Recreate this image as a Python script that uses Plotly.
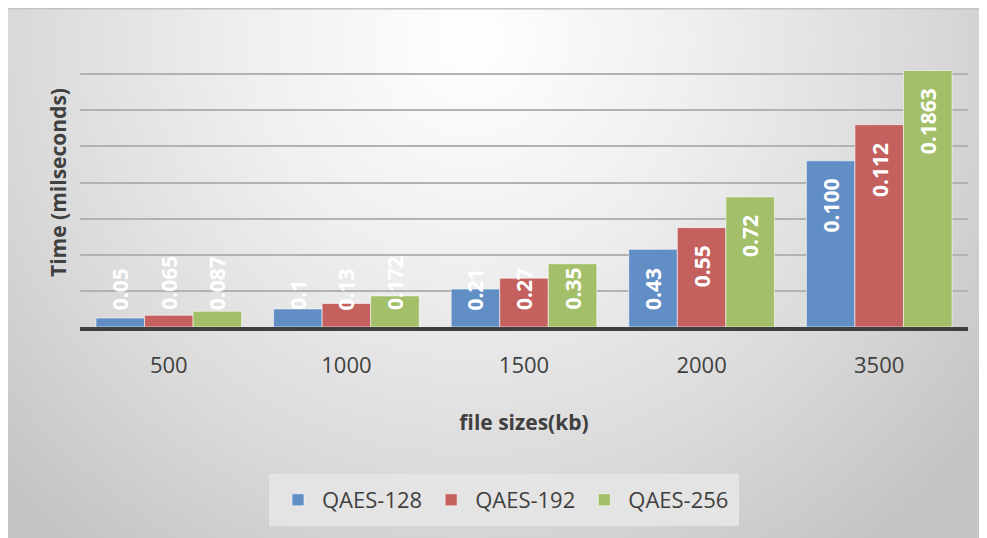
import base64
import plotly.graph_objects as go

# ---------------- data ----------------
categories = ["500", "1000", "1500", "2000", "3500"]
series_names = ["QAES-128", "QAES-192", "QAES-256"]
qaes128 = [0.05, 0.10, 0.21, 0.43, 0.92]
qaes192 = [0.065, 0.13, 0.27, 0.55, 1.12]
qaes256 = [0.087, 0.172, 0.35, 0.72, 1.42]
labels128 = ["0.05", "0.1", "0.21", "0.43", "0.100"]
labels192 = ["0.065", "0.13", "0.27", "0.55", "0.112"]
labels256 = ["0.087", "0.172", "0.35", "0.72", "0.1863"]

colors = ["#628EC6", "#C4615F", "#A3BF69"]

# ---------------- layout constants ----------------
# the page body has an 8px margin, so the figure starts at (8, 8) of the window
W, H = 979, 530
ML, MR, MT, MB = 72, 19, 30, 211
PW, PH = W - ML - MR, H - MT - MB
YMAX = 1.6
BARGAP = 0.18
PX_PER_UNIT = PH / YMAX
BAR_UNITS = (1 - BARGAP) / 3          # bar width in category units

FONT = "Open Sans"

fig = go.Figure()
all_vals = [qaes128, qaes192, qaes256]
all_labels = [labels128, labels192, labels256]
for name, vals, col in zip(series_names, all_vals, colors):
    fig.add_trace(go.Bar(
        x=list(categories), y=list(vals), name=name,
        marker=dict(color=col, line=dict(color="rgba(255,255,255,0.55)", width=1)),
    ))

# data labels (rotated, white, bold) placed "inside end", clamped near the axis
annotations = []
LBL_SIZE = 21
GAP = 18
for j, (vals, labs) in enumerate(zip(all_vals, all_labels)):
    for i, (v, lab) in enumerate(zip(vals, labs)):
        text_len = 0.572 * LBL_SIZE * (len(lab) - 1) + 0.29 * LBL_SIZE
        bar_px = v * PX_PER_UNIT
        if bar_px - GAP - text_len > GAP:
            y, yanchor, yshift = v, "top", -GAP + 2
        else:
            y, yanchor, yshift = 0, "bottom", GAP - 3
        annotations.append(dict(
            x=i + (j - 1) * BAR_UNITS, y=y, xref="x", yref="y",
            text="<b>" + lab + "</b>", showarrow=False,
            textangle=-90, xanchor="center", yanchor=yanchor, yshift=yshift,
            font=dict(family=FONT, size=LBL_SIZE, color="white"),
        ))

# background radial gradient over the whole figure
svg = (
    f'<svg xmlns="http://www.w3.org/2000/svg" width="{W}" height="{H}" '
    f'viewBox="0 0 {W} {H}" preserveAspectRatio="none"><defs>'
    f'<radialGradient id="g" gradientUnits="userSpaceOnUse" cx="462" cy="32" r="640">'
    f'<stop offset="0" stop-color="#ffffff"/><stop offset="0.35" stop-color="#efefef"/>'
    f'<stop offset="0.7" stop-color="#dadada"/><stop offset="1" stop-color="#c4c4c4"/>'
    f'</radialGradient></defs><rect width="{W}" height="{H}" fill="url(#g)"/></svg>'
)
src = "data:image/svg+xml;base64," + base64.b64encode(svg.encode()).decode()

def px2paper_x(px):
    return (px - ML) / PW

def px2paper_y(py):
    return (H - MB - py) / PH

fig.update_layout(
    width=W, height=H,
    margin=dict(l=ML, r=MR, t=MT, b=MB, autoexpand=False),
    paper_bgcolor="#d8d8d8", plot_bgcolor="rgba(0,0,0,0)",
    barmode="group", bargap=BARGAP, bargroupgap=0,
    font=dict(family=FONT, color="#404040"),
    images=[dict(
        source=src, xref="paper", yref="paper",
        x=px2paper_x(0), y=px2paper_y(0),
        sizex=W / PW, sizey=H / PH, sizing="stretch",
        xanchor="left", yanchor="top", layer="below",
    )],
    shapes=[dict(
        type="line", xref="paper", yref="paper",
        x0=px2paper_x(0), x1=px2paper_x(W), y0=px2paper_y(0), y1=px2paper_y(0),
        line=dict(color="#c3c3c3", width=3),
    )],
    annotations=annotations,
    legend=dict(
        orientation="h", x=px2paper_x(496), xanchor="center",
        y=px2paper_y(466), yanchor="top",
        bgcolor="#e4e4e4", bordercolor="#e4e4e4", borderwidth=5,
        font=dict(size=22, color="#404040", family=FONT),
        itemwidth=38, traceorder="normal",
    ),
    showlegend=True,
)

fig.update_xaxes(
    type="category", range=[-0.5, len(categories) - 0.5], automargin=False,
    showline=True, linecolor="#3f3f3f", linewidth=4,
    showgrid=False, ticks="outside", ticklen=16, tickcolor="rgba(0,0,0,0)",
    tickfont=dict(size=22, color="#404040", family=FONT),
    title=dict(text="<b>file sizes(kb)</b>", standoff=38,
               font=dict(size=21, color="#404040", family=FONT)),
)
fig.update_yaxes(
    range=[0, YMAX], dtick=0.2, showticklabels=False, zeroline=False, automargin=False,
    showgrid=True, gridcolor="#b2b2b2", gridwidth=2,
    title=dict(text="<b>Time (milseconds)</b>", standoff=6,
               font=dict(size=21, color="#404040", family=FONT)),
)

fig.write_html("out.html")
